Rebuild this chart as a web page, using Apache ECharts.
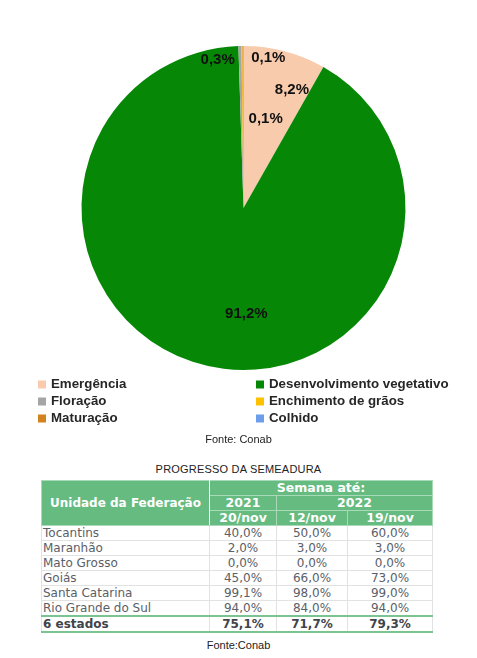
<!DOCTYPE html>
<html>
<head>
<meta charset="utf-8">
<script src="https://cdn.jsdelivr.net/npm/echarts@6/dist/echarts.min.js"></script>
<style>
    body { margin: 0; background: #fff; width: 477px; height: 658px; position: relative; overflow: hidden; }
    #chart { position: absolute; left: 0; top: 0; width: 477px; height: 452px; }
    .tabTitle { position: absolute; left: 0; width: 477px; top: 463px; text-align: center;
        font: 11px "Liberation Sans", Arial, sans-serif; color: #222; letter-spacing: 0.2px; }
    .fonte { position: absolute; left: 0; width: 477px; top: 639px; text-align: center;
        font: 11px "Liberation Sans", Arial, sans-serif; color: #222; }
    table { position: absolute; left: 41px; top: 480px; width: 391px; border-collapse: collapse;
        font-family: "DejaVu Sans", Verdana, sans-serif; font-size: 12px; table-layout: fixed; }
    td, th { padding: 0; height: 14px; line-height: 14px; white-space: nowrap; }
    th { background: #66bb80; color: #fff; font-weight: bold; font-size: 12.5px; border: 1px solid #a9dab7; }
    th.uf { border-right: 1px solid #fff; font-size: 12px; }
    td { color: #5b6068; text-align: center; border: 1px solid #e2e2e2; }
    td.nome { text-align: left; padding-left: 1px; }
    tr.total td { font-weight: bold; color: #3f444b; border-top: 2px solid #7cc392; border-bottom: 2px solid #7cc392; }
</style>
</head>
<body>
<div id="chart"></div>
<div class="tabTitle">PROGRESSO DA SEMEADURA</div>
<table id="tab"></table>
<div class="fonte">Fonte:Conab</div>
<script>
// estágios da cultura (%)
var estagios = ['Emergência', 'Desenvolvimento vegetativo', 'Floração', 'Enchimento de grãos', 'Maturação', 'Colhido'];
var valores = [8.2, 91.2, 0.3, 0.1, 0.1, 0];
var cores = ['#f8cbad', '#068806', '#a5a5a5', '#ffc000', '#d2821f', '#6d9eeb'];
// deslocamento dos rótulos (como no gráfico original)
var offsets = [[27, -37], [23, 24], [-24, -64], [23, -5], [25, -66], [0, 0]];

var legendaEsq = ['Emergência', 'Floração', 'Maturação'];
var legendaDir = ['Desenvolvimento vegetativo', 'Enchimento de grãos', 'Colhido'];

// tabela progresso da semeadura
var colunasAno = ['2021', '2022'];
var colunasSemana = ['20/nov', '12/nov', '19/nov'];
var estados = ['Tocantins', 'Maranhão', 'Mato Grosso', 'Goiás', 'Santa Catarina', 'Rio Grande do Sul'];
var sem2021 = [40.0, 2.0, 0.0, 45.0, 99.1, 94.0];
var sem12nov = [50.0, 3.0, 0.0, 66.0, 98.0, 84.0];
var sem19nov = [60.0, 3.0, 0.0, 73.0, 99.0, 94.0];
var total = ['6 estados', 75.1, 71.7, 79.3];

function pct(v) {
    return v.toFixed(1).replace('.', ',') + '%';
}

var chart = echarts.init(document.getElementById('chart'));
var dados = estagios.map(function (nome, i) {
    return {
        name: nome,
        value: valores[i],
        itemStyle: { color: cores[i] },
        label: { show: valores[i] > 0, offset: offsets[i] }
    };
});
var legendaBase = {
    orient: 'vertical',
    top: 373,
    icon: 'rect',
    itemWidth: 8,
    itemHeight: 8,
    itemGap: 4,
    selectedMode: false,
    textStyle: { fontFamily: 'Liberation Sans', fontWeight: 'bold', fontSize: 13.3, color: '#262626' }
};
var option = {
    animation: false,
    title: {
        text: 'Fonte: Conab',
        left: 'center',
        top: 429,
        textStyle: { fontFamily: 'Liberation Sans', fontWeight: 'normal', fontSize: 11, color: '#222' }
    },
    legend: [
        Object.assign({ left: 33, data: legendaEsq }, legendaBase),
        Object.assign({ left: 251, data: legendaDir }, legendaBase)
    ],
    series: [{
        type: 'pie',
        center: [243.5, 208],
        radius: [0, 162],
        startAngle: 90,
        clockwise: true,
        avoidLabelOverlap: false,
        emphasis: { disabled: true },
        itemStyle: { borderWidth: 0 },
        label: {
            position: 'inside',
            formatter: function (p) { return pct(p.value); },
            fontFamily: 'Liberation Sans',
            fontWeight: 'bold',
            fontSize: 15,
            color: '#111'
        },
        labelLine: { show: false },
        data: dados
    }]
};
chart.setOption(option);

// monta a tabela
var html = '<colgroup><col style="width:168px"><col style="width:67px"><col style="width:71px"><col style="width:85px"></colgroup>';
html += '<tr><th class="uf" rowspan="3">Unidade da Federação</th><th colspan="3">Semana até:</th></tr>';
html += '<tr><th>' + colunasAno[0] + '</th><th colspan="2">' + colunasAno[1] + '</th></tr>';
html += '<tr>' + colunasSemana.map(function (s) { return '<th>' + s + '</th>'; }).join('') + '</tr>';
estados.forEach(function (uf, i) {
    html += '<tr><td class="nome">' + uf + '</td><td>' + pct(sem2021[i]) + '</td><td>' + pct(sem12nov[i]) + '</td><td>' + pct(sem19nov[i]) + '</td></tr>';
});
html += '<tr class="total"><td class="nome">' + total[0] + '</td><td>' + pct(total[1]) + '</td><td>' + pct(total[2]) + '</td><td>' + pct(total[3]) + '</td></tr>';
document.getElementById('tab').innerHTML = html;
</script>
</body>
</html>
